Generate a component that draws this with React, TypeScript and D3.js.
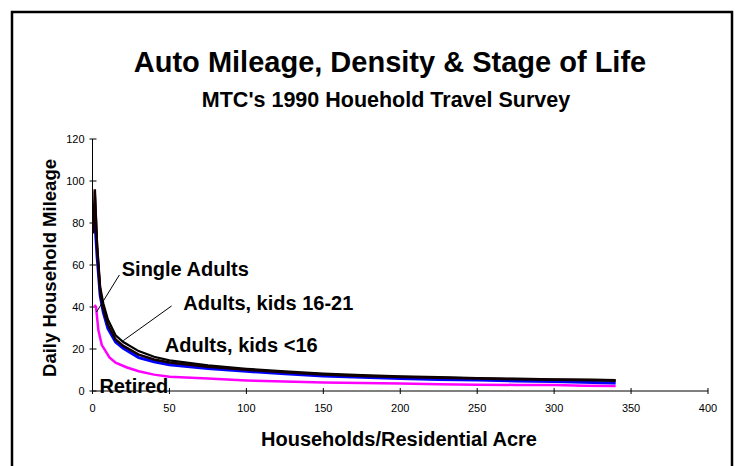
import * as d3 from "d3";
import { useEffect, useRef } from "react";

// household density (households / residential acre)
const density = [0.5, 1.5, 3, 5, 7, 10, 15, 20, 30, 40, 50, 75, 100, 125, 150, 175, 200, 225, 250, 275, 300, 325, 340];
const density1621 = [1.5, 3, 5, 7, 10, 15, 20, 30, 40, 50, 75, 100, 125, 150, 175, 200, 225, 250, 275, 300, 325, 340];
const densityU16 = [1.2, 3, 5, 7, 10, 15, 20, 30, 40, 50, 75, 100, 125, 150, 175, 200, 225, 250, 275, 300, 325, 340];
const retiredX = [1.3, 2.3, 3.8, 6, 11, 15, 22, 30, 40, 50, 75, 100, 125, 150, 175, 200, 225, 250, 275, 300, 320, 340];

// daily household mileage per stage of life
const singleAdults = [75, 96, 68, 47, 39, 31.5, 24.5, 21.5, 17.3, 15, 13.6, 11.5, 10.1, 8.9, 7.9, 7.2, 6.7, 6.3, 5.9, 5.6, 5.3, 5.1, 4.9];
const kids1621 = [95, 70, 49.5, 41.8, 34, 26.5, 23.3, 19, 16.3, 14.6, 12.2, 10.6, 9.3, 8.3, 7.6, 7, 6.6, 6.2, 5.9, 5.6, 5.4, 5.2];
const kidsUnder16 = [85, 64, 45.5, 37.5, 29.8, 23.3, 20.3, 15.9, 13.9, 12.5, 10.7, 9.4, 8.2, 7.2, 6.5, 6, 5.5, 5.2, 4.8, 4.5, 4.1, 3.8];
const retired = [41, 40, 29, 22, 16, 13.5, 11.3, 9.4, 7.8, 6.8, 5.9, 5, 4.5, 4.1, 3.8, 3.6, 3.2, 3, 2.9, 2.8, 2.5, 2.4];

const xTicks = [0, 50, 100, 150, 200, 250, 300, 350, 400];
const yTicks = [0, 20, 40, 60, 80, 100, 120];

// annotation labels in data coordinates: text anchor point and leader line
const notes = [
    { text: "Single Adults", x: 19, y: 55, from: [17.5, 55.3], to: [2.6, 37.6] },
    { text: "Adults, kids 16-21", x: 59, y: 38.5, from: [51.4, 40.5], to: [20, 24] },
    { text: "Adults, kids <16", x: 47, y: 18.6, from: null, to: null },
    { text: "Retired", x: 4.5, y: -0.8, from: null, to: null },
];

const FONT = "Arial, 'Liberation Sans', sans-serif";

const App = () => {
    const svgRef = useRef<SVGSVGElement | null>(null);

    useEffect(() => {
        const svg = d3.select(svgRef.current);
        svg.selectAll("*").remove();

        const width = 740, height = 466;
        const x = d3.scaleLinear().domain([0, 400]).range([92.5, 708]);
        const y = d3.scaleLinear().domain([0, 120]).range([391, 139]);

        svg.append("rect").attr("width", width).attr("height", height).attr("fill", "#fff");
        // outer frame
        svg.append("rect")
            .attr("x", 12).attr("y", 12)
            .attr("width", 720).attr("height", 470)
            .attr("fill", "none").attr("stroke", "#000").attr("stroke-width", 2.5);

        // titles
        svg.append("text")
            .attr("x", 390).attr("y", 72)
            .attr("text-anchor", "middle")
            .style("font", `bold 29px ${FONT}`)
            .text("Auto Mileage, Density & Stage of Life");
        svg.append("text")
            .attr("x", 386).attr("y", 107)
            .attr("text-anchor", "middle")
            .style("font", `bold 21.5px ${FONT}`)
            .text("MTC's 1990 Houehold Travel Survey");

        // ** Axes **
        const axes = svg.append("g").attr("stroke", "#000").attr("stroke-width", 1);
        axes.append("line").attr("x1", x(0)).attr("x2", x(400)).attr("y1", y(0)).attr("y2", y(0));
        axes.append("line").attr("x1", x(0)).attr("x2", x(0)).attr("y1", y(0)).attr("y2", y(120));
        axes.selectAll(".xt").data(xTicks).join("line")
            .attr("class", "xt")
            .attr("x1", d => x(d)).attr("x2", d => x(d))
            .attr("y1", y(0) - 3).attr("y2", y(0) + 3);
        axes.selectAll(".yt").data(yTicks).join("line")
            .attr("class", "yt")
            .attr("x1", x(0) - 3).attr("x2", x(0) + 4)
            .attr("y1", d => y(d)).attr("y2", d => y(d));

        svg.selectAll(".xl").data(xTicks).join("text")
            .attr("class", "xl")
            .attr("x", d => x(d)).attr("y", y(0) + 21)
            .attr("text-anchor", "middle")
            .style("font", `11px ${FONT}`)
            .text(d => d);
        svg.selectAll(".yl").data(yTicks).join("text")
            .attr("class", "yl")
            .attr("x", x(0) - 8).attr("y", d => y(d) + 4)
            .attr("text-anchor", "end")
            .style("font", `11px ${FONT}`)
            .text(d => d);

        svg.append("text")
            .attr("x", 399).attr("y", 446)
            .attr("text-anchor", "middle")
            .style("font", `bold 20px ${FONT}`)
            .text("Households/Residential Acre");
        svg.append("text")
            .attr("transform", `translate(56,${(y(0) + y(120)) / 2 + 3}) rotate(-90)`)
            .attr("text-anchor", "middle")
            .style("font", `bold 18.5px ${FONT}`)
            .text("Daily Household Mileage");

        // ** Lines **
        const line = d3.line<[number, number]>().x(d => x(d[0])).y(d => y(d[1]));
        const pts = (xs: number[], ys: number[]) => xs.map((v, i) => [v, ys[i]] as [number, number]);

        svg.append("path").attr("d", line(pts(retiredX, retired)))
            .attr("fill", "none").attr("stroke", "#ff00ff").attr("stroke-width", 2.5);
        svg.append("path").attr("d", line(pts(densityU16, kidsUnder16)))
            .attr("fill", "none").attr("stroke", "#0000ff").attr("stroke-width", 3);
        svg.append("path").attr("d", line(pts(density1621, kids1621)))
            .attr("fill", "none").attr("stroke", "#000").attr("stroke-width", 2.2);
        svg.append("path").attr("d", line(pts(density, singleAdults)))
            .attr("fill", "none").attr("stroke", "#140000").attr("stroke-width", 2.5);

        // ** Annotations **
        notes.forEach(n => {
            if (n.from && n.to) {
                svg.append("line")
                    .attr("x1", x(n.from[0])).attr("y1", y(n.from[1]))
                    .attr("x2", x(n.to[0])).attr("y2", y(n.to[1]))
                    .attr("stroke", "#000").attr("stroke-width", 1);
            }
            svg.append("text")
                .attr("x", x(n.x)).attr("y", y(n.y))
                .style("font", `bold 20px ${FONT}`)
                .text(n.text);
        });
    }, []);

    return (
        <svg ref={svgRef} width={740} height={466}
            style={{ position: "fixed", top: 0, left: 0, display: "block" }} />
    );
};

export default App;
